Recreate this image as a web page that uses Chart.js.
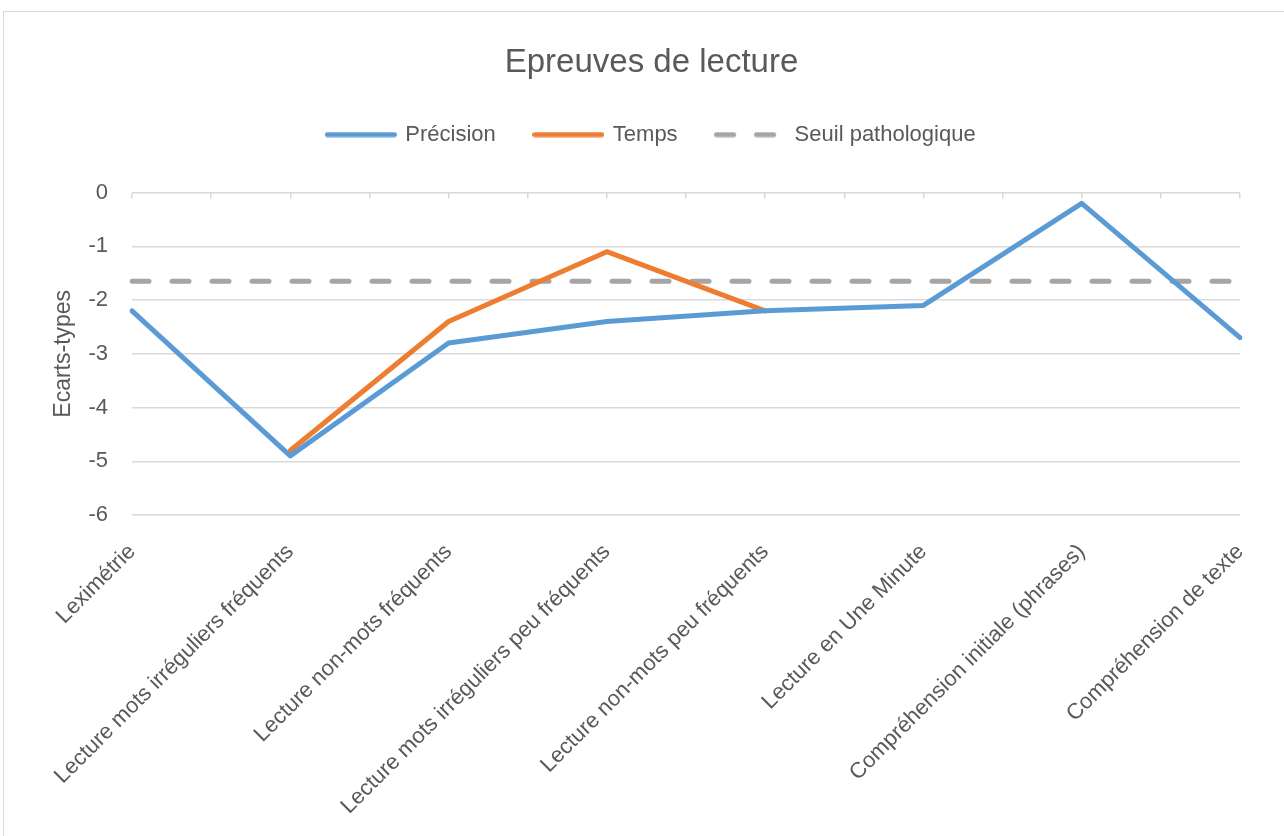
<!DOCTYPE html>
<html>
<head>
<meta charset="utf-8">
<script src="https://cdn.jsdelivr.net/npm/chart.js@4.4.1/dist/chart.umd.min.js"></script>
<style>
    body { margin: 0; overflow: hidden; background: #fff; }
    #frame { position: absolute; left: 3px; top: 11px; width: 1400px; height: 900px; border: 1px solid #d9d9d9; }
    #wrap { position: absolute; left: 0; top: 0; width: 1284px; height: 836px; }
</style>
</head>
<body>
<div id="frame"></div>
<div id="wrap"><canvas id="lectureChart" width="1284" height="836"></canvas></div>
<script>
// Données
const categories = [
    "Leximétrie",
    "Lecture mots irréguliers fréquents",
    "Lecture non-mots fréquents",
    "Lecture mots irréguliers peu fréquents",
    "Lecture non-mots peu fréquents",
    "Lecture en Une Minute",
    "Compréhension initiale (phrases)",
    "Compréhension de texte"
];
const precision = [-2.2, -4.9, -2.8, -2.4, -2.2, -2.1, -0.2, -2.7];
const temps = [null, -4.8, -2.4, -1.1, -2.2, null, null, null];
const seuil = [-1.65, -1.65, -1.65, -1.65, -1.65, -1.65, -1.65, -1.65];
const yMin = -6;
const yMax = 0;
const yStep = 1;
const tickStep = 0.5; // petites graduations entre les catégories

const FONT = "'Liberation Sans', Arial, sans-serif";
const TEXT = "#595959";
const GRID = "#d9d9d9";
const LINE_W = 5;
const SEUIL_DASH = [17, 23];
const SWATCH_W = 67;

function lineDataset(label, data, color, dash) {
    return {
        label: label,
        data: data,
        borderColor: color,
        backgroundColor: color,
        borderWidth: LINE_W,
        borderDash: dash || [],
        borderCapStyle: "round",
        borderJoinStyle: "round",
        pointRadius: 0,
        pointHoverRadius: 0,
        tension: 0,
        spanGaps: false
    };
}

// petit trait de légende (le style "line" de Chart.js ignore les tirets)
function makeSwatch(color, dash) {
    const c = document.createElement("canvas");
    c.width = SWATCH_W + LINE_W;
    c.height = LINE_W + 1;
    const g = c.getContext("2d");
    g.strokeStyle = color;
    g.lineWidth = LINE_W;
    g.lineCap = "round";
    g.setLineDash(dash || []);
    g.beginPath();
    g.moveTo(LINE_W / 2, c.height / 2);
    g.lineTo(LINE_W / 2 + SWATCH_W, c.height / 2);
    g.stroke();
    return c;
}

new Chart(document.getElementById("lectureChart").getContext("2d"), {
    type: "line",
    data: {
        labels: categories,
        datasets: [
            lineDataset("Précision", precision, "#5B9BD5"),
            lineDataset("Temps", temps, "#ED7D31"),
            lineDataset("Seuil pathologique", seuil, "#A5A5A5", SEUIL_DASH)
        ]
    },
    options: {
        responsive: false,
        animation: false,
        devicePixelRatio: 1,
        layout: { padding: { left: 63, right: 44, top: 0, bottom: 0 } },
        plugins: {
            title: {
                display: true,
                text: "Epreuves de lecture",
                color: TEXT,
                font: { family: FONT, size: 33, weight: "normal" },
                padding: { top: 43, bottom: 2 }
            },
            legend: {
                labels: {
                    usePointStyle: true,
                    pointStyleWidth: SWATCH_W,
                    padding: 39,
                    color: TEXT,
                    font: { family: FONT, size: 22 },
                    generateLabels: (chart) => {
                        const items = Chart.defaults.plugins.legend.labels.generateLabels(chart);
                        items.forEach((item) => {
                            const ds = chart.data.datasets[item.datasetIndex];
                            item.pointStyle = makeSwatch(ds.borderColor, ds.borderDash);
                        });
                        return items;
                    }
                }
            },
            // espace vide entre la légende et le graphique
            subtitle: {
                display: true,
                text: "",
                weight: 500,
                font: { size: 1, lineHeight: 1 },
                padding: { top: 36, bottom: 0 }
            },
            tooltip: { enabled: false }
        },
        scales: {
            x: {
                type: "category",
                grid: { display: false, drawTicks: false },
                border: { display: false },
                ticks: {
                    color: TEXT,
                    font: { family: FONT, size: 22 },
                    minRotation: 45,
                    maxRotation: 45,
                    autoSkip: false,
                    padding: 24
                },
                afterFit: (scale) => { scale.height = 321; }
            },
            xTicks: {
                type: "linear",
                axis: "x",
                position: "top",
                min: 0,
                max: categories.length - 1,
                ticks: { display: false, stepSize: tickStep },
                grid: { drawOnChartArea: false, tickLength: -6, color: GRID, lineWidth: 1.5 },
                border: { display: false },
                afterFit: (scale) => { scale.height = 0; }
            },
            y: {
                min: yMin,
                max: yMax,
                ticks: {
                    stepSize: yStep,
                    color: TEXT,
                    font: { family: FONT, size: 22 },
                    padding: 24
                },
                grid: { color: GRID, lineWidth: 1.5, drawTicks: false },
                border: { display: false },
                title: {
                    display: true,
                    text: "Ecarts-types",
                    color: TEXT,
                    font: { family: FONT, size: 23 },
                    padding: { top: -13, bottom: 0 }
                },
                afterFit: (scale) => { scale.width = 69; }
            }
        }
    }
});
</script>
</body>
</html>
